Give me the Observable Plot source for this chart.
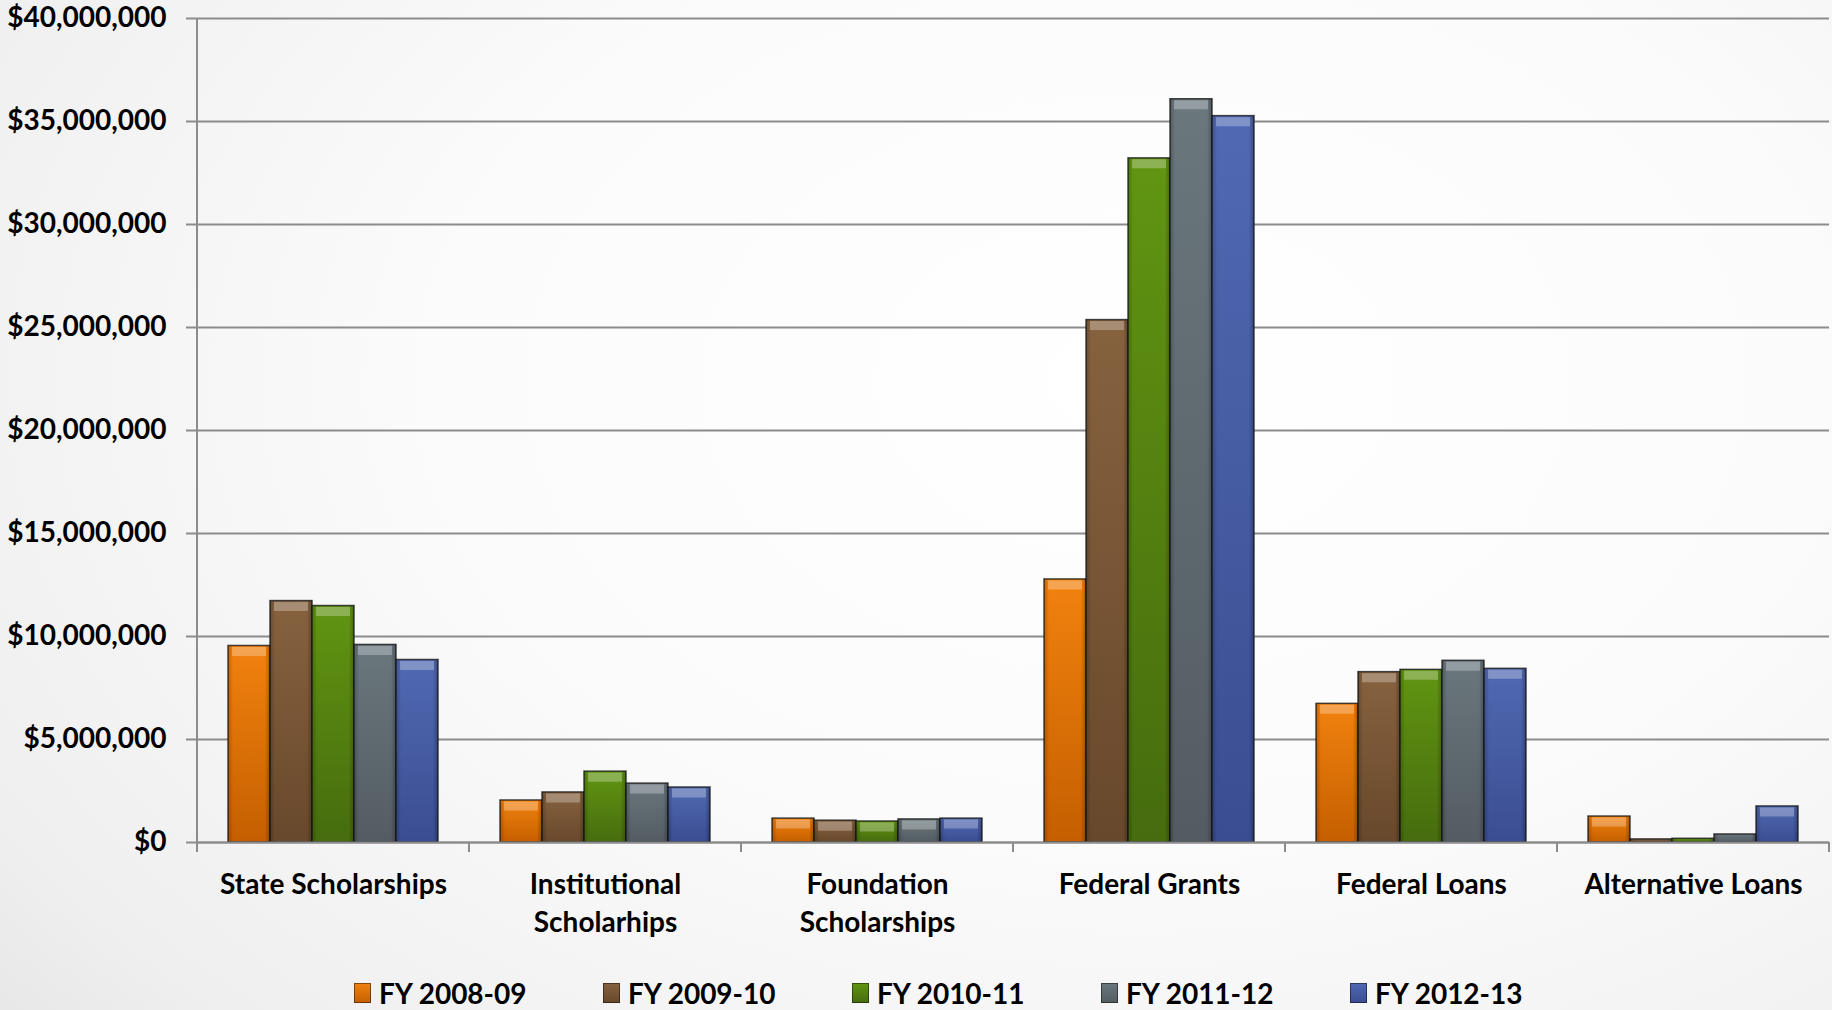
<!DOCTYPE html>
<html><head><meta charset="utf-8">
<script src="https://cdn.jsdelivr.net/npm/d3@7"></script>
<script src="https://cdn.jsdelivr.net/npm/@observablehq/plot@0.6"></script>
<style>
html,body{margin:0;padding:0;width:1832px;height:1010px;overflow:hidden;}
body{background: radial-gradient(ellipse 95% 115% at 62% 38%, #ffffff 0%, #fbfbfb 40%, #efefef 75%, #dcdcdc 100%);
font-family: Lato, "Open Sans", sans-serif;}
#legend{display:flex;align-items:center;height:54px;padding-left:354px;box-sizing:border-box;}
.item{display:flex;align-items:center;width:249px;font-size:28px;font-weight:700;color:#000;}
.item:last-child{width:auto;}
.sw{width:17px;height:20px;margin-right:8px;position:relative;box-shadow: inset 0 0 0 1px rgba(0,0,0,0.45);}
</style></head><body><div id="chart"></div><div id="legend"></div>
<script>
const categories = ["State Scholarships","Institutional\nScholarhips","Foundation\nScholarships","Federal Grants","Federal Loans","Alternative Loans"];
const years = ["FY 2008-09","FY 2009-10","FY 2010-11","FY 2011-12","FY 2012-13"];
const fy2008_09 = [9540000, 2040000, 1160000, 12770000, 6730000, 1260000];
const fy2009_10 = [11720000, 2430000, 1060000, 25360000, 8270000, 150000];
const fy2010_11 = [11480000, 3440000, 1020000, 33210000, 8380000, 180000];
const fy2011_12 = [9590000, 2860000, 1120000, 36080000, 8820000, 390000];
const fy2012_13 = [8860000, 2670000, 1160000, 35260000, 8430000, 1750000];
const yTicks = [0, 5000000, 10000000, 15000000, 20000000, 25000000, 30000000, 35000000, 40000000];
const colorsTop = ["#F2820F", "#86623F", "#619512", "#6A777D", "#5069B2"];
const colorsBottom = ["#C45F00", "#68482C", "#466C0E", "#535C61", "#3B4D92"];

const series = [fy2008_09, fy2009_10, fy2010_11, fy2011_12, fy2012_13];
const rows = [];
categories.forEach((c, i) => years.forEach((yr, j) => rows.push({category: c, year: yr, value: series[j][i]})));

const gray = "#8c8c8c";
const plot = Plot.plot({
  width: 1832, height: 966,
  marginLeft: 196, marginRight: 2, marginTop: 18, marginBottom: 124,
  style: {background: "transparent", fontFamily: "Lato, 'Open Sans', sans-serif", color: "#000"},
  fx: {domain: categories, padding: 0, label: null},
  x: {domain: years, paddingInner: 0, paddingOuter: 0.734, axis: null},
  y: {domain: [0, 40000000], label: null},
  color: {domain: years, range: years.map((_, i) => `url(#bar${i})`)},
  marks: [
    Plot.gridY(yTicks, {stroke: gray, strokeOpacity: 1, strokeWidth: 2}),
    Plot.axisY(yTicks, {tickSize: 11, tickPadding: 20, stroke: gray, strokeWidth: 2, fill: "#000",
      fontSize: 28, fontWeight: 700, label: null, tickFormat: d => "$" + d3.format(",")(d)}),
    Plot.barY(rows, {fx: "category", x: "year", y: "value", fill: "year", stroke: "#1a1a1a", strokeOpacity: 0.8, strokeWidth: 1.5}),
    Plot.barY(rows, {fx: "category", x: "year", y: "value", fill: "url(#edge)"}),
    Plot.tickY(rows.filter(d => d.value >= 600000), {fx: "category", x: "year", y: "value", stroke: "#ffffff", strokeOpacity: 0.28, strokeWidth: 9, dy: 5.5, insetLeft: 4, insetRight: 4}),
    Plot.ruleY([0], {stroke: gray, strokeWidth: 2}),
    Plot.axisFx({anchor: "bottom", tickSize: 0, tickPadding: 24, fontSize: 28, fontWeight: 700, lineHeight: 1.37, label: null, fill: "#000"})
  ]
});

const svg = d3.select(plot);
const defs = svg.insert("defs", ":first-child");
colorsTop.forEach((c, i) => {
  const g = defs.append("linearGradient").attr("id", `bar${i}`).attr("x1", 0).attr("y1", 0).attr("x2", 0).attr("y2", 1);
  g.append("stop").attr("offset", "0%").attr("stop-color", c);
  g.append("stop").attr("offset", "100%").attr("stop-color", colorsBottom[i]);
});
const e = defs.append("linearGradient").attr("id", "edge").attr("x1", 0).attr("y1", 0).attr("x2", 1).attr("y2", 0);
[[0, 0.22], [0.12, 0.0], [0.88, 0.0], [1, 0.28]].forEach(([o, a]) =>
  e.append("stop").attr("offset", o).attr("stop-color", "#000").attr("stop-opacity", a));

// y axis line and category boundary ticks
const fxs = plot.scale("fx"), ys = plot.scale("y");
const y0 = ys.apply(0), yTop = ys.apply(40000000);
const bounds = categories.map(c => fxs.apply(c)).concat([fxs.apply(categories[categories.length - 1]) + fxs.bandwidth]);
const g = svg.append("g").attr("stroke", gray).attr("stroke-width", 2);
bounds.forEach((bx, i) => {
  g.append("line").attr("x1", bx).attr("x2", bx).attr("y1", i === 0 ? yTop : y0).attr("y2", y0 + 10);
});

document.getElementById("chart").appendChild(plot);

const legend = d3.select("#legend");
years.forEach((yr, i) => {
  const it = legend.append("div").attr("class", "item");
  it.append("div").attr("class", "sw").style("background", `linear-gradient(${colorsTop[i]}, ${colorsBottom[i]})`);
  it.append("span").text(yr);
});
</script></body></html>
